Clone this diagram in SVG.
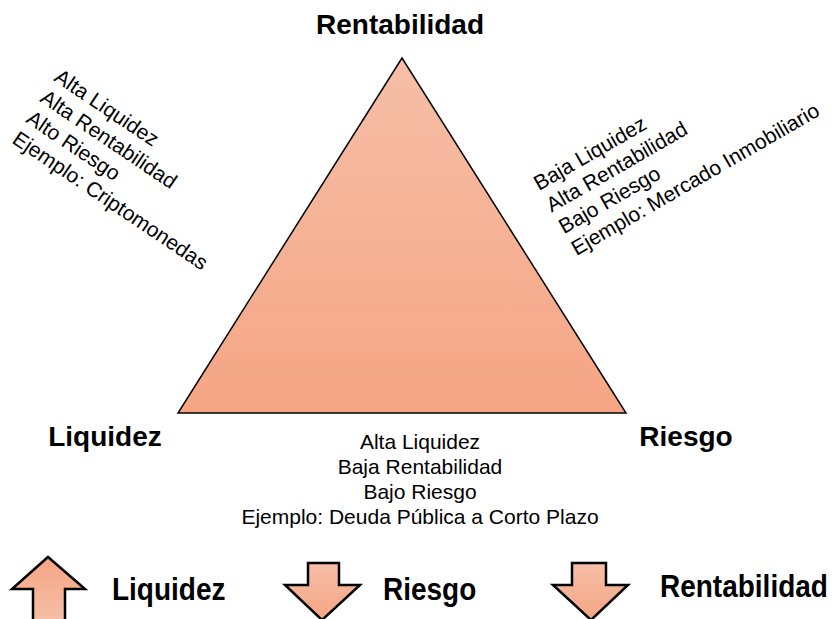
<svg xmlns="http://www.w3.org/2000/svg" width="832" height="619" viewBox="0 0 832 619">
  <defs>
    <linearGradient id="tri" x1="0" y1="0" x2="0" y2="1">
      <stop offset="0" stop-color="#f6bfa7"/>
      <stop offset="1" stop-color="#f5a584"/>
    </linearGradient>
    <linearGradient id="arrUp" x1="0" y1="0" x2="0" y2="1">
      <stop offset="0" stop-color="#f5a584"/>
      <stop offset="1" stop-color="#f6bfa7"/>
    </linearGradient>
    <linearGradient id="arrDown" x1="0" y1="0" x2="0" y2="1">
      <stop offset="0" stop-color="#f6bfa7"/>
      <stop offset="1" stop-color="#f5a584"/>
    </linearGradient>
  </defs>
  <style>
    .t { font-family: "Liberation Sans", Arial, sans-serif; font-size: 21px; fill: #000; }
    .b { font-family: "Liberation Sans", Arial, sans-serif; font-size: 28px; font-weight: bold; fill: #000; }
    .arr { stroke: #000; stroke-width: 2.5; stroke-linejoin: miter; }
  </style>

  <g id="triangle">
    <polygon points="402,58 178,413 626,413" fill="url(#tri)" stroke="#000" stroke-width="1.5" stroke-linejoin="miter"/>
  </g>

  <g id="label-rentabilidad">
    <text class="b" x="400" y="34" text-anchor="middle">Rentabilidad</text>
  </g>
  <g id="label-liquidez">
    <text class="b" x="105" y="446" text-anchor="middle">Liquidez</text>
  </g>
  <g id="label-riesgo">
    <text class="b" x="686" y="446" text-anchor="middle">Riesgo</text>
  </g>

  <g id="note-left" transform="translate(53,80) rotate(34)">
    <text class="t" x="0" y="0">Alta Liquidez</text>
    <text class="t" x="0" y="25">Alta Rentabilidad</text>
    <text class="t" x="0" y="50">Alto Riesgo</text>
    <text class="t" x="0" y="75">Ejemplo: Criptomonedas</text>
  </g>

  <g id="note-right" transform="translate(539,191) rotate(-30)">
    <text class="t" x="0" y="0">Baja Liquidez</text>
    <text class="t" x="0" y="25">Alta Rentabilidad</text>
    <text class="t" x="0" y="50">Bajo Riesgo</text>
    <text class="t" x="0" y="75">Ejemplo: Mercado Inmobiliario</text>
  </g>

  <g id="note-bottom">
    <text class="t" x="420" y="449" text-anchor="middle">Alta Liquidez</text>
    <text class="t" x="420" y="474" text-anchor="middle">Baja Rentabilidad</text>
    <text class="t" x="420" y="499" text-anchor="middle">Bajo Riesgo</text>
    <text class="t" x="420" y="524" text-anchor="middle">Ejemplo: Deuda Pública a Corto Plazo</text>
  </g>

  <g id="legend-liquidez">
    <polygon class="arr" points="48,557 85,589 65,589 65,622 33,622 33,589 12,589" fill="url(#arrUp)"/>
    <text class="b" transform="translate(112,600) scale(1,1.15)">Liquidez</text>
  </g>
  <g id="legend-riesgo">
    <polygon class="arr" points="308,563 339,563 339,585 360,585 322,620 285,585 308,585" fill="url(#arrDown)"/>
    <text class="b" transform="translate(383,600) scale(1,1.15)">Riesgo</text>
  </g>
  <g id="legend-rentabilidad">
    <polygon class="arr" points="572,563 606,563 606,585 628,585 591,620 553,585 572,585" fill="url(#arrDown)"/>
    <text class="b" transform="translate(660,597) scale(1,1.15)">Rentabilidad</text>
  </g>
</svg>
